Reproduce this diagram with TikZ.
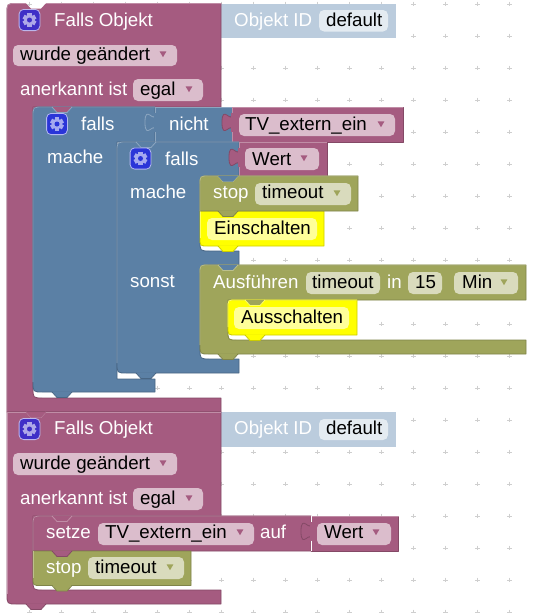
\documentclass[tikz,border=0pt]{standalone}
\usepackage{fontspec}
\setmainfont{Liberation Sans}
\definecolor{pur}{HTML}{A55B80}\definecolor{purL}{HTML}{C08DA6}\definecolor{purD}{HTML}{844966}\definecolor{purF}{HTML}{DBBDCC}
\definecolor{blu}{HTML}{5B80A5}\definecolor{bluL}{HTML}{8CA6C0}\definecolor{bluD}{HTML}{496684}
\definecolor{oli}{HTML}{9FA55B}\definecolor{oliL}{HTML}{BCC08C}\definecolor{oliD}{HTML}{7F8449}\definecolor{oliF}{HTML}{D9DBBD}
\definecolor{yel}{HTML}{FFFF00}\definecolor{yelL}{HTML}{FFFF66}\definecolor{yelD}{HTML}{CCCC00}\definecolor{yelF}{HTML}{FFFF99}
\definecolor{oid}{HTML}{BBCCDD}\definecolor{oidF}{HTML}{E4EBF1}\definecolor{oidD}{HTML}{B0C0D0}
\definecolor{gridc}{HTML}{CFCFCF}
\definecolor{ic1}{HTML}{3F2FC7}\definecolor{ic2}{HTML}{2A35D8}
\tikzset{
  lbl/.style={anchor=base west,inner sep=0pt,font=\fontsize{18.7}{20}\selectfont},
  wlbl/.style={lbl,text=white},
  blbl/.style={lbl,text=black},
  edge/.style={line width=.8pt,line join=round},
}
\newcommand{\notchT}[3]{\fill[#3] (#1+17,#2) -- (#1+22,#2+5.5) -- (#1+32,#2+5.5) -- (#1+37,#2) -- cycle;}
\newcommand{\notchB}[4]{\fill[#3] (#1+17,#2-.6) -- (#1+22,#2+5.5) -- (#1+32,#2+5.5) -- (#1+37,#2-.6) -- cycle;
  \draw[#4,edge] (#1+17,#2) -- (#1+22,#2+5.5) -- (#1+32,#2+5.5) -- (#1+37,#2);}
\newcommand{\notchL}[3]{\draw[#3,edge] (#1+17,#2) -- (#1+22,#2+5.5) -- (#1+32,#2+5.5) -- (#1+37,#2);}
\newcommand{\puz}[4]{\begin{scope}[shift={(#1,#2)}]
  \filldraw[fill=#3,draw=#4,edge] (0,6) .. controls (0,18.5) and (-10,-4) .. (-10,15.4) .. controls (-10,34.8) and (0,12.25) .. (0,24.75);
  \fill[#3] (-.6,6) rectangle (.6,24.75);
  \end{scope}}
\newcommand{\field}[5]{\fill[#5,rounded corners=5pt] (#1,#2) rectangle (#3,#4);}
\newcommand{\drop}[3]{\fill[#3] (#1-3.4,#2-2.6) -- (#1+3.4,#2-2.6) -- (#1,#2+3.2) -- cycle;}
\newcommand{\gear}[3]{\begin{scope}[shift={(#1,#2)}]
  \filldraw[fill=#3,draw=white!65!#3,line width=.8pt,rounded corners=4.5pt] (-10.4,-10.6) rectangle (10.4,10.6);
  \foreach \a in {0,60,...,300}{\fill[white!58!#3,rotate=\a] (-2.2,-6.8) rectangle (2.2,0);}
  \fill[white!58!#3] (0,0) circle (5.4);
  \fill[#3] (0,0) circle (2.5);
  \end{scope}}
\begin{document}
\begin{tikzpicture}[x=1pt,y=-1pt]
\useasboundingbox (0,0) rectangle (536,613);
\fill[white] (0,0) rectangle (536,613);
% grid
\foreach \i in {0,...,15}{\foreach \j in {0,...,19}{
  \draw[gridc,line width=.8pt] (29.7+32*\i-2.3,4+32*\j) -- (29.7+32*\i+2.3,4+32*\j) (29.7+32*\i,4+32*\j-2.3) -- (29.7+32*\i,4+32*\j+2.3);}}

% ---- object id blocks
\fill[oid] (221,3.5) rectangle (396,38);
\puz{221}{3.5}{oid}{oidD}
\fill[oid] (221,412) rectangle (396,446.5);
\puz{221}{412}{oid}{oidD}

% ---- hat block 1
\filldraw[fill=pur,draw=purD,edge] (221,3.5) -- (17,3.5) .. controls (7,3.5) .. (7,13.5) -- (7,412) -- (221,412) -- (221,398) -- (43,398) .. controls (33,398) .. (33,388) -- (33,107) -- (221,107) -- cycle;
\draw[purL,edge] (221,3.5) -- (17,3.5) .. controls (7,3.5) .. (7,13.5) -- (7,412);
\notchT{9}{3}{white}
\draw[gridc,line width=.8pt] (27.4,4) -- (32,4) (29.7,1.7) -- (29.7,6.3);
\fill[pur] (33.4,107.4) rectangle (44,118);

% ---- hat block 2
\filldraw[fill=pur,draw=purD,edge] (221,412) -- (7,412) -- (7,594) .. controls (7,604) .. (17,604) -- (221,604) -- (221,590) -- (43,590) .. controls (33,590) .. (33,580) -- (33,516) -- (221,516) -- cycle;
\draw[purL,edge] (221,412) -- (7,412) -- (7,594);
\notchB{9}{604}{pur}{purD}
\fill[pur] (33.4,516.4) rectangle (44,527);
\notchL{9}{412}{purL}
\notchT{9}{412}{pur}

% ---- outer falls
\filldraw[fill=blu,draw=bluD,edge] (155,107) -- (43,107) .. controls (33,107) .. (33,117) -- (33,382) .. controls (33,392) .. (43,392) -- (155,392) -- (155,379) -- (117,379) -- (117,142) -- (155,142) -- cycle;
\draw[bluL,edge] (155,107) -- (43,107) .. controls (33,107) .. (33,117) -- (33,382);
\notchB{35}{392}{blu}{bluD}
\notchT{35}{107}{pur}
\notchL{35}{107}{bluL}
% nicht
\filldraw[fill=blu,draw=bluD,edge] (155,107) rectangle (232,142);
\draw[bluL,edge] (155,142) -- (155,107) -- (232,107);
\puz{155}{107}{blu}{bluL}
% TV
\filldraw[fill=pur,draw=purD,edge] (232,107) rectangle (403,142);
\draw[purL,edge] (232,142) -- (232,107) -- (403,107);
\puz{232}{107}{pur}{purD}

% ---- inner falls
\filldraw[fill=blu,draw=bluD,edge] (239,142) -- (127,142) .. controls (117,142) .. (117,152) -- (117,363) .. controls (117,373) .. (127,373) -- (239,373) -- (239,359) -- (210,359) .. controls (200,359) .. (200,349) -- (200,273) -- (208,273) -- (208,265) -- (239,265) -- (239,251) -- (210,251) .. controls (200,251) .. (200,241) -- (200,184) -- (208,184) -- (208,176) -- (239,176) -- cycle;
\draw[bluL,edge] (239,142) -- (127,142) .. controls (117,142) .. (117,152) -- (117,363);
\notchB{119}{373}{blu}{bluD}
\notchT{119}{142}{blu}
\notchL{119}{142}{bluL}
% Wert
\filldraw[fill=pur,draw=purD,edge] (239,142) rectangle (327,176);
\draw[purL,edge] (239,176) -- (239,142) -- (327,142);
\puz{239}{142}{pur}{purD}

% ---- yellow Einschalten
\filldraw[fill=yel,draw=yelD,edge] (200,211) -- (200,238) .. controls (200,246) .. (208,246) -- (324,246) -- (324,211) -- cycle;
\draw[yelL,edge] (200,211) -- (200,238);
\notchB{201}{246}{yel}{yelD}
% ---- stop
\filldraw[fill=oli,draw=oliD,edge] (358,176) -- (209,176) .. controls (200,176) .. (200,185) -- (200,211) -- (358,211) -- cycle;
\draw[oliL,edge] (358,176) -- (209,176) .. controls (200,176) .. (200,185) -- (200,211);
\notchL{201}{176}{oliL}
\notchT{201}{176}{blu}
\notchB{201}{211}{oli}{oliD}

% ---- Ausfuehren
\filldraw[fill=oli,draw=oliD,edge] (526,265) -- (209,265) .. controls (200,265) .. (200,274) -- (200,345) .. controls (200,354) .. (209,354) -- (526,354) -- (526,340) -- (237,340) .. controls (228,340) .. (228,331) -- (228,300) -- (526,300) -- cycle;
\draw[oliL,edge] (526,265) -- (209,265) .. controls (200,265) .. (200,274) -- (200,345);
\fill[oli] (228.4,300.4) rectangle (238,310);
\notchT{201}{265}{blu}
\notchL{201}{265}{oliL}
\notchB{201}{354}{oli}{oliD}
% ---- yellow Ausschalten
\filldraw[fill=yel,draw=yelD,edge] (357,300) -- (236,300) .. controls (228,300) .. (228,308) -- (228,327) .. controls (228,335) .. (236,335) -- (357,335) -- cycle;
\draw[yelL,edge] (357,300) -- (236,300) .. controls (228,300) .. (228,308) -- (228,327);
\notchT{228}{300}{oli}
\notchL{228}{300}{yelL}
\notchB{228}{335}{yel}{yelD}

% ---- setze
\filldraw[fill=pur,draw=purD,edge] (311,516) -- (43,516) .. controls (33,516) .. (33,526) -- (33,551) -- (311,551) -- cycle;
\draw[purL,edge] (311,516) -- (43,516) .. controls (33,516) .. (33,526) -- (33,551);
\notchT{35}{516}{pur}
\notchL{35}{516}{purL}
\filldraw[fill=pur,draw=purD,edge] (311,516) rectangle (398.5,551);
\puz{311}{516}{pur}{purD}
\draw[white,line width=.9pt] (311,516) -- (311,522) (311,540.5) -- (311,551);
\draw[purL,edge] (311.5,516) -- (398.5,516);
% ---- stop 2
\filldraw[fill=oli,draw=oliD,edge] (33,551) -- (33,577.5) .. controls (33,585.5) .. (41,585.5) -- (191,585.5) -- (191,551) -- cycle;
\draw[oliL,edge] (33,551) -- (33,577.5);
\notchB{35}{585.5}{oli}{oliD}
\notchB{35}{551}{pur}{purD}

% ---- fields
\field{319}{10}{388}{31.5}{oidF}
\field{319}{419}{388}{440}{oidF}
\field{13}{45}{177}{66}{purF}\field{133}{79}{203}{101}{purF}
\field{13}{453}{177}{475}{purF}\field{133}{488}{203}{510}{purF}
\field{239}{114}{395}{136}{purF}\field{245}{148}{319}{170}{purF}
\field{255}{183}{351}{205}{oliF}\field{207}{218}{317}{240}{yelF}
\field{306}{272}{380}{294}{oliF}\field{408}{272}{442}{294}{oliF}\field{454}{272}{518}{294}{oliF}
\field{234}{307}{349}{329}{yelF}
\field{98}{523}{254}{545}{purF}\field{317}{523}{391}{545}{purF}
\field{88}{557}{184}{579}{oliF}

\drop{163}{54}{pur}\drop{189}{89}{pur}\drop{381}{124}{pur}\drop{304}{158}{pur}
\drop{337}{193}{oli}\drop{504}{282}{oli}
\drop{163}{463}{pur}\drop{189}{498}{pur}\drop{240}{532}{pur}\drop{376}{532}{pur}\drop{170}{567}{oli}

\gear{29.5}{20}{ic1}\gear{29.5}{429}{ic1}
\gear{57}{124}{ic2}\gear{140.5}{158.5}{ic2}

% ---- text
\node[wlbl] (t1) at (54,26) {Falls Objekt};
\node[wlbl] (t2) at (234,26) {Objekt ID};
\node[blbl] (t3) at (326,26) {default};
\node[blbl] (t4) at (20,60.5) {wurde geändert};
\node[wlbl] (t5) at (20,95) {anerkannt ist};
\node[blbl] (t6) at (140,95) {egal};
\node[wlbl] (t7) at (81,130.5) {falls};
\node[wlbl] (t8) at (169,130.5) {nicht};
\node[blbl] (t9) at (245,130.5) {TV\_extern\_ein};
\node[wlbl] (t10) at (47,163) {mache};
\node[wlbl] (t11) at (165,165) {falls};
\node[blbl] (t12) at (252,165) {Wert};
\node[wlbl] (t13) at (130,198) {mache};
\node[wlbl] (t14) at (213,198.5) {stop};
\node[blbl] (t15) at (262,198.5) {timeout};
\node[blbl] (t16) at (214,234.5) {Einschalten};
\node[wlbl] (t17) at (130,287) {sonst};
\node[wlbl] (t18) at (213,288.5) {Ausführen};
\node[blbl] (t19) at (312,288.5) {timeout};
\node[wlbl] (t20) at (387,288.5) {in};
\node[blbl] (t21) at (415,288.5) {15};
\node[blbl] (t22) at (462,288.5) {Min};
\node[blbl] (t23) at (241,323) {Ausschalten};
\node[wlbl] (t24) at (54,434.5) {Falls Objekt};
\node[wlbl] (t25) at (234,434.5) {Objekt ID};
\node[blbl] (t26) at (326,434.5) {default};
\node[blbl] (t27) at (20,469.5) {wurde geändert};
\node[wlbl] (t28) at (20,504) {anerkannt ist};
\node[blbl] (t29) at (140,504) {egal};
\node[wlbl] (t30) at (46,538.5) {setze};
\node[blbl] (t31) at (105,538.5) {TV\_extern\_ein};
\node[wlbl] (t32) at (260,538.5) {auf};
\node[blbl] (t33) at (324,538.5) {Wert};
\node[wlbl] (t34) at (46,573.5) {stop};
\node[blbl] (t35) at (95,573.5) {timeout};
\end{tikzpicture}
\end{document}
